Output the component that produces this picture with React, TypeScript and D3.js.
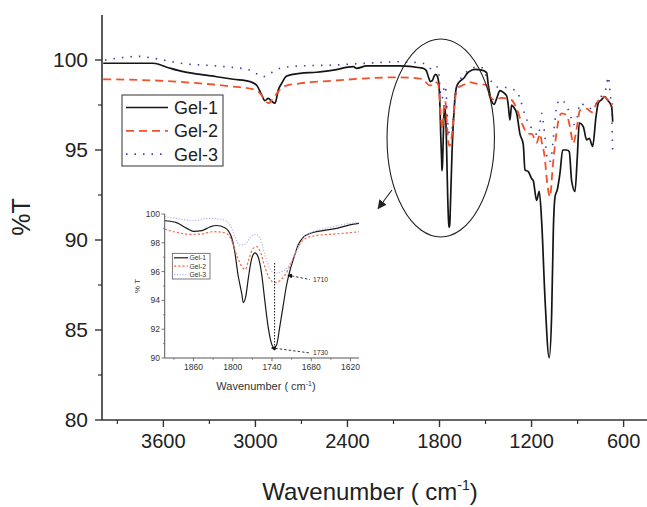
import React from 'react';
import * as d3 from 'd3';

// FTIR spectra, [wavenumber cm-1, %T]
const gel1: [number, number][] = [
  [3992, 99.82], [3666, 99.82], [3578, 99.6], [3470, 99.35], [3361, 99.2], [3252, 99.07],
  [3144, 98.93], [3035, 98.8], [2992, 98.6], [2959, 98.06], [2938, 97.74], [2916, 97.87],
  [2894, 97.7], [2872, 97.6], [2851, 98.33], [2829, 98.7], [2796, 99.11], [2709, 99.26],
  [2601, 99.32], [2492, 99.44], [2362, 99.63], [2340, 99.54], [2275, 99.67], [2058, 99.67],
  [1927, 99.57], [1904, 99.53], [1886, 99.4], [1870, 99.0], [1860, 98.8], [1847, 98.85],
  [1835, 99.1], [1825, 99.2], [1812, 99.05], [1802, 98.4], [1797, 97.4], [1792, 95.8],
  [1786, 94.4], [1784, 93.85], [1780, 94.3], [1776, 95.6], [1771, 96.9], [1766, 97.3],
  [1761, 97.0], [1756, 95.9], [1751, 94.0], [1746, 92.2], [1740, 90.9], [1737, 90.7],
  [1733, 90.9], [1728, 92.2], [1723, 93.6], [1718, 95.0], [1713, 96.0], [1707, 96.9],
  [1700, 97.85], [1692, 98.4], [1682, 98.65], [1662, 98.85], [1641, 99.0], [1621, 99.24],
  [1607, 99.35], [1569, 99.48], [1525, 99.44], [1493, 99.3], [1482, 98.6], [1460, 97.7],
  [1445, 97.54], [1427, 97.87], [1406, 98.3], [1384, 98.2], [1362, 98.0], [1352, 97.5],
  [1341, 96.67], [1330, 97.5], [1319, 97.4], [1297, 97.04], [1276, 95.9], [1254, 95.3],
  [1243, 93.9], [1221, 93.8], [1199, 93.4], [1189, 93.3], [1167, 92.2], [1150, 92.7],
  [1134, 91.0], [1113, 86.85], [1085, 83.46], [1069, 85.9], [1058, 90.6], [1047, 92.4],
  [1032, 92.8], [1015, 93.7], [997, 95.0], [971, 95.0], [954, 94.9], [939, 93.3],
  [917, 92.7], [902, 94.6], [889, 96.5], [863, 96.3], [841, 95.56], [824, 95.65],
  [802, 95.2], [780, 96.85], [765, 97.6], [743, 97.8], [722, 97.96], [707, 97.8],
  [689, 97.6], [678, 97.4], [671, 96.57],
];

const gel2: [number, number][] = [
  [3992, 98.93], [3578, 98.83], [3361, 98.7], [3144, 98.52], [3014, 98.37], [2970, 98.15],
  [2938, 97.78], [2916, 97.6], [2883, 97.87], [2851, 98.24], [2818, 98.52], [2709, 98.7],
  [2492, 98.85], [2275, 98.98], [2058, 99.04], [1904, 98.94], [1886, 98.73], [1865, 98.59],
  [1850, 98.6], [1830, 98.77], [1812, 98.7], [1802, 98.2], [1794, 97.15], [1786, 96.34],
  [1781, 96.15], [1775, 96.9], [1769, 97.6], [1763, 97.73], [1758, 97.4], [1751, 96.34],
  [1743, 95.46], [1735, 95.23], [1728, 95.37], [1720, 95.76], [1712, 96.46], [1702, 97.5],
  [1692, 98.2], [1677, 98.47], [1651, 98.59], [1621, 98.7], [1607, 98.77], [1569, 98.7],
  [1493, 98.6], [1471, 97.96], [1438, 97.78], [1395, 97.9], [1362, 97.87], [1330, 97.78],
  [1297, 97.3], [1264, 96.5], [1221, 95.9], [1199, 95.9], [1167, 95.4], [1145, 95.9],
  [1134, 95.46], [1113, 94.5], [1101, 93.4], [1080, 92.4], [1062, 94.07], [1047, 95.3],
  [1032, 96.3], [1004, 97.04], [971, 96.94], [950, 96.3], [928, 95.37], [906, 96.2],
  [884, 97.2], [841, 97.3], [808, 97.1], [776, 97.6], [733, 97.96], [700, 97.78],
  [684, 97.5], [671, 97.6],
];

const gel3: [number, number][] = [
  [3980, 100.0], [3752, 100.2], [3666, 100.1], [3470, 99.8], [3252, 99.67], [3035, 99.44],
  [2949, 99.07], [2905, 99.26], [2840, 99.54], [2709, 99.67], [2492, 99.72], [2275, 99.82],
  [2058, 99.9], [1904, 99.81], [1886, 99.7], [1860, 99.53], [1840, 99.7], [1817, 99.63],
  [1804, 99.24], [1797, 98.43], [1789, 97.85], [1781, 97.9], [1774, 98.3], [1766, 98.59],
  [1758, 98.3], [1751, 97.15], [1743, 96.2], [1735, 95.9], [1725, 96.0], [1715, 96.34],
  [1707, 97.03], [1697, 97.96], [1687, 98.54], [1672, 98.84], [1646, 99.12], [1621, 99.35],
  [1607, 99.4], [1558, 99.63], [1515, 99.54], [1493, 99.07], [1471, 98.9], [1427, 98.5],
  [1384, 98.5], [1341, 98.4], [1297, 98.3], [1276, 97.87], [1243, 96.94], [1221, 96.5],
  [1189, 96.1], [1156, 95.8], [1134, 97.04], [1124, 96.57], [1113, 95.74], [1101, 94.7],
  [1091, 94.35], [1075, 94.4], [1062, 95.3], [1047, 96.67], [1032, 97.6], [1004, 97.8],
  [971, 97.4], [950, 97.04], [928, 96.4], [902, 96.85], [884, 97.6], [841, 97.4],
  [808, 97.3], [776, 97.6], [754, 97.87], [733, 98.15], [715, 98.4], [700, 99.07],
  [689, 98.24], [678, 97.04], [671, 94.7],
];

const seriesNames = ['Gel-1', 'Gel-2', 'Gel-3'];

const mainXTicks = [3600, 3000, 2400, 1800, 1200, 600];
const mainXMinor = [3900, 3300, 2700, 2100, 1500, 900];
const mainYTicks = [80, 85, 90, 95, 100];
const mainYMinor = [82.5, 87.5, 92.5, 97.5];

const insetXTicks = [1860, 1800, 1740, 1680, 1620];
const insetXMinor = [1890, 1830, 1770, 1710, 1650];
const insetYTicks = [90, 92, 94, 96, 98, 100];
const insetYMinor = [91, 93, 95, 97, 99];

// inset callouts: tip on curve, end of leader, label
const calloutTip: [number, number][] = [[1710, 95.7], [1735, 90.67]];
const calloutEnd: [number, number][] = [[1682, 95.45], [1682, 90.35]];
const calloutLabels = ['1710', '1730'];

const FONT = '"Liberation Sans", Arial, Helvetica, sans-serif';

const App = () => {
  const width = 647;
  const height = 507;

  const x = d3.scaleLinear().domain([4000, 400]).range([102, 654.3]);
  const y = d3.scaleLinear().domain([80, 102.5]).range([420, 15]);

  const ix = d3.scaleLinear().domain([1904, 1607]).range([164.7, 359]);
  const iy = d3.scaleLinear().domain([90, 100]).range([358, 214]);

  const mainLine = d3.line<[number, number]>()
    .x(d => x(d[0]))
    .y(d => y(d[1]))
    .curve(d3.curveMonotoneX);

  const insetLine = d3.line<[number, number]>()
    .x(d => ix(d[0]))
    .y(d => iy(d[1]))
    .curve(d3.curveMonotoneX);

  const insetData = (data: [number, number][]) => data.filter(d => d[0] <= 1930 && d[0] >= 1590);

  const mainStyles = [
    { stroke: '#151515', dash: undefined, width: 1.7 },
    { stroke: '#f0502a', dash: '8,5', width: 1.8 },
    { stroke: '#3b3fa6', dash: '1.5,7', width: 1.6 },
  ];
  const insetStyles = [
    { stroke: '#1a1a1a', dash: undefined, width: 1.2 },
    { stroke: '#f26a48', dash: '2.2,2', width: 1.2 },
    { stroke: '#b4b4e8', dash: '1.2,1.6', width: 1.2 },
  ];
  const all = [gel1, gel2, gel3];

  // ellipse round the carbonyl region, arrow pointing to the inset
  const ellC: [number, number] = [1792, 95.67];
  const ellRx = x(ellC[0] - 350) - x(ellC[0]);
  const ellRy = y(ellC[1] - 5.5) - y(ellC[1]);
  const arrowFrom: [number, number] = [2110, 92.78];
  const arrowTo: [number, number] = [2200, 91.75];

  const axisColor = '#333';

  return (
    <svg width={width} height={height} style={{ position: 'absolute', left: 0, top: 0, background: '#fff' }}
      fontFamily={FONT}>
      <defs>
        <clipPath id="mainClip">
          <rect x={102} y={15} width={545} height={405} />
        </clipPath>
        <clipPath id="insetClip">
          <rect x={164.7} y={212} width={195} height={146} />
        </clipPath>
        <marker id="bigArrow" viewBox="0 0 10 10" refX="9" refY="5" markerWidth="9" markerHeight="9"
          orient="auto" markerUnits="userSpaceOnUse">
          <path d="M0,0 L10,5 L0,10 z" fill="#222" />
        </marker>
        <marker id="smallArrow" viewBox="0 0 10 10" refX="1" refY="5" markerWidth="5" markerHeight="5"
          orient="auto-start-reverse" markerUnits="userSpaceOnUse">
          <path d="M0,0 L10,5 L0,10 z" fill="#111" />
        </marker>
      </defs>

      {/* main curves */}
      <g clipPath="url(#mainClip)">
        {all.map((data, i) => (
          <path key={i} d={mainLine(data) || ''} fill="none" stroke={mainStyles[i].stroke}
            strokeWidth={mainStyles[i].width} strokeDasharray={mainStyles[i].dash} />
        ))}
      </g>

      {/* main axes */}
      <line x1={102} x2={102} y1={15} y2={420} stroke={axisColor} strokeWidth={1.6} />
      <line x1={102} x2={647} y1={420} y2={420} stroke={axisColor} strokeWidth={1.6} />
      {mainYTicks.map(t => (
        <g key={t}>
          <line x1={95} x2={102} y1={y(t)} y2={y(t)} stroke={axisColor} strokeWidth={1.4} />
          <text x={88} y={y(t)} dy="0.35em" textAnchor="end" fontSize={21} fill="#222">{t}</text>
        </g>
      ))}
      {mainYMinor.map(t => (
        <line key={t} x1={98} x2={102} y1={y(t)} y2={y(t)} stroke={axisColor} strokeWidth={1.2} />
      ))}
      {mainXTicks.map(t => (
        <g key={t}>
          <line x1={x(t)} x2={x(t)} y1={420} y2={427} stroke={axisColor} strokeWidth={1.4} />
          <text x={x(t)} y={448} textAnchor="middle" fontSize={20} fill="#222">{t}</text>
        </g>
      ))}
      {mainXMinor.map(t => (
        <line key={t} x1={x(t)} x2={x(t)} y1={420} y2={424} stroke={axisColor} strokeWidth={1.2} />
      ))}
      <text transform="translate(30,217) rotate(-90)" textAnchor="middle" fontSize={25} fill="#222">%T</text>
      <text x={370} y={500} textAnchor="middle" fontSize={24} fill="#222">
        Wavenumber ( cm<tspan dy={-10} fontSize={14}>-1</tspan><tspan dy={10}>)</tspan>
      </text>

      {/* legend */}
      <rect x={122} y={95} width={101} height={71} fill="#fff" stroke="#333" strokeWidth={1} />
      {seriesNames.map((name, i) => {
        const ry = 107.5 + i * 23.3;
        return (
          <g key={name}>
            <line x1={126} x2={168} y1={ry} y2={ry} stroke={mainStyles[i].stroke}
              strokeWidth={mainStyles[i].width} strokeDasharray={mainStyles[i].dash} />
            <text x={174} y={ry} dy="0.36em" fontSize={18} fill="#222">{name}</text>
          </g>
        );
      })}

      {/* ellipse and arrow */}
      <ellipse cx={x(ellC[0])} cy={y(ellC[1])} rx={ellRx} ry={ellRy} fill="none" stroke="#222" strokeWidth={1.1} />
      <line x1={x(arrowFrom[0])} y1={y(arrowFrom[1])} x2={x(arrowTo[0])} y2={y(arrowTo[1])}
        stroke="#222" strokeWidth={1.1} markerEnd="url(#bigArrow)" />

      {/* inset */}
      <g clipPath="url(#insetClip)">
        {all.map((data, i) => (
          <path key={i} d={insetLine(insetData(data)) || ''} fill="none" stroke={insetStyles[i].stroke}
            strokeWidth={insetStyles[i].width} strokeDasharray={insetStyles[i].dash} />
        ))}
      </g>
      {/* vertical marker at the Gel-1 minimum */}
      <line x1={ix(1736)} x2={ix(1736)} y1={iy(96.6)} y2={iy(90.75)} stroke="#111" strokeWidth={1}
        strokeDasharray="1.5,1.5" />
      {calloutTip.map((tip, i) => (
        <g key={i}>
          <line x1={ix(tip[0])} y1={iy(tip[1])} x2={ix(calloutEnd[i][0])} y2={iy(calloutEnd[i][1])}
            stroke="#222" strokeWidth={0.9} strokeDasharray="2.5,2" markerStart="url(#smallArrow)" />
          <text x={ix(calloutEnd[i][0]) + 3} y={iy(calloutEnd[i][1])} dy="0.35em" fontSize={6.8} fill="#333">
            {calloutLabels[i]}
          </text>
        </g>
      ))}

      <line x1={164.7} x2={164.7} y1={214} y2={358} stroke="#555" strokeWidth={1} />
      <line x1={164.7} x2={359} y1={358} y2={358} stroke="#555" strokeWidth={1} />
      {insetYTicks.map(t => (
        <g key={t}>
          <line x1={161.5} x2={164.7} y1={iy(t)} y2={iy(t)} stroke="#555" strokeWidth={0.8} />
          <text x={160} y={iy(t)} dy="0.35em" textAnchor="end" fontSize={8.5} fill="#333">{t}</text>
        </g>
      ))}
      {insetYMinor.map(t => (
        <line key={t} x1={163} x2={164.7} y1={iy(t)} y2={iy(t)} stroke="#555" strokeWidth={0.7} />
      ))}
      {insetXTicks.map(t => (
        <g key={t}>
          <line x1={ix(t)} x2={ix(t)} y1={358} y2={361.2} stroke="#555" strokeWidth={0.8} />
          <text x={ix(t)} y={370} textAnchor="middle" fontSize={8.5} fill="#333">{t}</text>
        </g>
      ))}
      {insetXMinor.map(t => (
        <line key={t} x1={ix(t)} x2={ix(t)} y1={358} y2={359.8} stroke="#555" strokeWidth={0.7} />
      ))}
      <text transform="translate(140,286) rotate(-90)" textAnchor="middle" fontSize={8} fill="#333">% T</text>
      <text x={266} y={390} textAnchor="middle" fontSize={11} fill="#333">
        Wavenumber ( cm<tspan dy={-4.5} fontSize={7}>-1</tspan><tspan dy={4.5}>)</tspan>
      </text>

      {/* inset legend */}
      <rect x={172.3} y={253.3} width={37.7} height={25.7} fill="#fff" stroke="#444" strokeWidth={0.7} />
      {seriesNames.map((name, i) => {
        const ry = 257.8 + i * 8.4;
        return (
          <g key={name}>
            <line x1={174} x2={188} y1={ry} y2={ry} stroke={insetStyles[i].stroke}
              strokeWidth={insetStyles[i].width} strokeDasharray={insetStyles[i].dash} />
            <text x={189.5} y={ry} dy="0.35em" fontSize={6.8} fill="#333">{name}</text>
          </g>
        );
      })}
    </svg>
  );
};

export default App;
